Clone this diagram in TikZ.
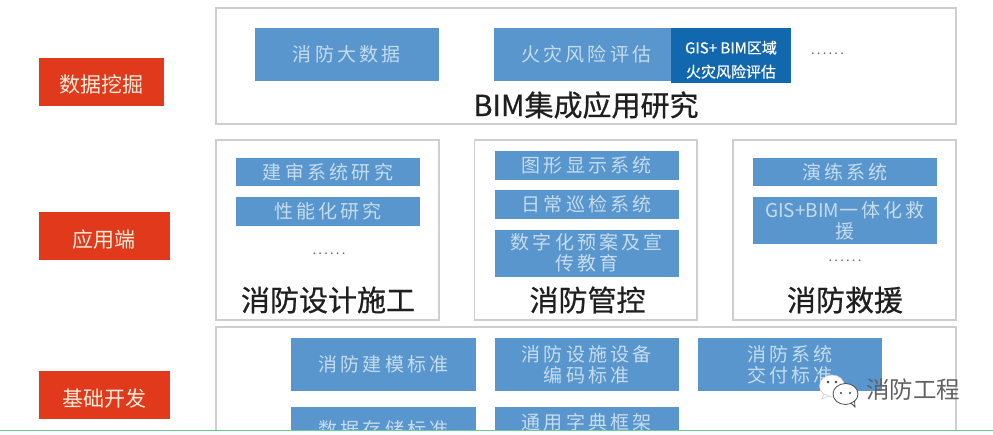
\documentclass[tikz,border=0pt]{standalone}
\usepackage{fontspec}
\setmainfont{Noto Sans CJK SC}
\newfontfamily\cjkwide[LetterSpace=17]{Noto Sans CJK SC}
\newfontfamily\cjkhead[FakeBold=0.7]{Noto Sans CJK SC}
\definecolor{redbox}{HTML}{E0391C}
\definecolor{bluebox}{HTML}{5A96CE}
\definecolor{darkbox}{HTML}{1268AE}
\definecolor{paletxt}{HTML}{C4DCEE}
\definecolor{frameln}{HTML}{CFCDD2}
\tikzset{
  tagbox/.style={fill=redbox,text=white!85!orange,inner sep=0pt,text height=22pt,text depth=0pt,font=\fontsize{21}{21}\selectfont},
  panel/.style={draw=frameln,line width=1.2pt,fill=white,inner sep=0pt},
  item/.style={fill=bluebox,text=paletxt,inner sep=0pt,align=center,minimum width=184.5pt,font=\cjkwide\fontsize{19}{21}\selectfont},
  heading/.style={text=black!88,inner sep=0pt,font=\cjkhead\fontsize{29}{29}\selectfont},
  moredots/.style={text=black!60,inner sep=0pt,font=\cjkwide\fontsize{13}{13}\selectfont},
}
\begin{document}
\begin{tikzpicture}[x=1pt,y=-1pt]
  \useasboundingbox (0,0) rectangle (993,434);
  \begin{scope}
    \clip (0,0) rectangle (993,430);
    % left column
    \foreach \nm/\cx/\cy/\bw/\lab in {tagmine/101/81.5/125/数据挖掘,tagapp/104/236/131/应用端,tagbase/104/395/131/基础开发}
      \node[tagbox,minimum width=\bw pt,minimum height=48pt] (\nm) at (\cx,\cy) {\lab};
    % panels
    \foreach \nm/\xa/\ya/\xb/\yb in {pbim/216/8/956/124,pdesign/216/140/439/320,pcontrol/474.5/140/697/320,prescue/733/140/956/320,pbase/216/327/956/450}
      \node[panel,minimum width=\xb pt-\xa pt,minimum height=\yb pt-\ya pt] (\nm) at ({(\xa+\xb)/2},{(\ya+\yb)/2}) {};
    % blue items
    \foreach \nm/\cx/\cy/\bh/\lab in {
      bigdata/346.75/54.5/53/消防大数据,
      riskeval/586.25/54.5/53/火灾风险评估,
      review/328/172/28/建审系统研究,
      perform/328/211.5/29/性能化研究,
      graphic/586.75/165/29/图形显示系统,
      patrol/586.75/204.5/29/日常巡检系统,
      preplan/586.75/253/47/{数字化预案及宣\\传教育},
      drill/845/172/28/演练系统,
      oneness/845/220.5/47/{{\rmfamily GIS+BIM}一体化救\\援},
      modelstd/383.5/364.5/53/消防建模标准,
      codestd/586.75/364.5/53/{消防设施设备\\编码标准},
      deliverstd/790/364.5/53/{消防系统\\交付标准},
      storestd/383.5/429/45/数据存储标准,
      dictframe/586.75/431.5/50/{通用字典框架\\\ }}
      \node[item,minimum height=\bh pt] (\nm) at (\cx,\cy) {\lab};
    \node[fill=darkbox,text=white,inner sep=0pt,align=center,minimum width=120pt,minimum height=55pt,font=\cjkhead\fontsize{15}{24}\selectfont] (gisrisk) at (731,55) {\rule{0pt}{22pt}GIS+ BIM区域\\火灾风险评估};
    % dots
    \node[moredots] (dotsa) at (827.5,54) {......};
    \node[moredots] (dotsb) at (329,254) {......};
    \node[moredots] (dotsc) at (845,261) {......};
    % headings
    \node[heading] (hbim) at (586,105) {BIM集成应用研究};
    \node[heading] (hdesign) at (328,300) {消防设计施工};
    \node[heading] (hcontrol) at (587.5,300) {消防管控};
    \node[heading] (hrescue) at (845,300) {消防救援};
    % watermark
    \fill[white,draw=black!18,line width=.6pt] (832,386) ellipse (12.5 and 11);
    \fill[white,draw=black!18,line width=.6pt] (824,394) -- (822,399) -- (829,396) -- cycle;
    \fill[white,draw=black!70,line width=.8pt] (845.5,394) ellipse (12.5 and 10.5);
    \fill[white,draw=black!70,line width=.8pt] (851,403) -- (855,407) -- (854.5,401) -- cycle;
    \fill[white] (847,399) ellipse (7 and 4);
    \foreach \ex/\ey/\er in {828/382/1.3,836/382/1.3,841/393/1.2,850/393/1.2}
      \fill[black!75] (\ex,\ey) circle (\er);
    \node[text=black!62,inner sep=0pt,font=\fontsize{23.5}{23.5}\selectfont] (wmark) at (913,390) {消防工程};
  \end{scope}
  \draw[color=green!35!teal!60,line width=.8pt] (0,430.5) -- (993,430.5);
\end{tikzpicture}
\end{document}
